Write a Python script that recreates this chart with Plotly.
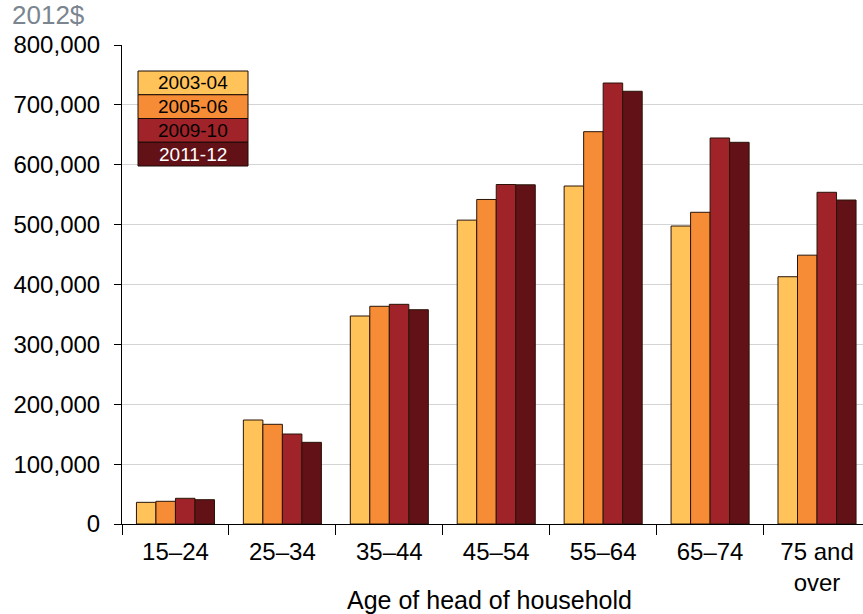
import plotly.graph_objects as go

categories = ["15–24", "25–34", "35–44", "45–54", "55–64", "65–74", "75 and<br>over"]
series_names = ["2003-04", "2005-06", "2009-10", "2011-12"]
v_2003_04 = [36200, 173700, 347400, 507500, 564500, 497700, 413000]
v_2005_06 = [37900, 166500, 363600, 542000, 655200, 520600, 449000]
v_2009_10 = [42900, 150300, 366900, 567000, 736500, 644700, 554000]
v_2011_12 = [40600, 136400, 357900, 566500, 722700, 637500, 541100]
series_values = [v_2003_04, v_2005_06, v_2009_10, v_2011_12]
colors = ["#FFC35A", "#F68D36", "#A0232A", "#621117"]
text_colors = ["#000000", "#000000", "#000000", "#FFFFFF"]
y_ticks = [0, 100000, 200000, 300000, 400000, 500000, 600000, 700000, 800000]

FONT = "Liberation Sans, Arial, sans-serif"
W, H = 863, 614
ML, MR, MT, MB = 122, 0, 45, 90
pw, ph = W - ML - MR, H - MT - MB


def px_x(x):
    return (x - ML) / pw


def px_y(y):
    return 1 - (y - MT) / ph


fig = go.Figure()
for name, vals, col in zip(series_names, series_values, colors):
    fig.add_trace(go.Bar(
        x=categories, y=vals, name=name,
        marker=dict(color=col, line=dict(color="#2a1408", width=1)),
        showlegend=False,
    ))

fig.update_layout(
    width=W, height=H,
    margin=dict(l=ML, r=MR, t=MT, b=MB, pad=0),
    paper_bgcolor="white", plot_bgcolor="white",
    barmode="group", bargap=0.27, bargroupgap=0,
    font=dict(family=FONT, size=24, color="#000000"),
)
fig.update_xaxes(
    type="category", range=[-0.5, 6.43],
    showline=True, linecolor="#000000", linewidth=1,
    ticks="outside", tickson="boundaries", ticklen=10, tickcolor="#000000",
    tickfont=dict(family=FONT, size=24, color="#000000"),
    ticklabelstandoff=6,
    showgrid=False,
)
fig.update_yaxes(
    range=[0, 800000], tickvals=y_ticks,
    ticktext=[f"{v:,}" for v in y_ticks],
    showline=True, linecolor="#000000", linewidth=1,
    ticks="outside", ticklen=7, tickcolor="#000000",
    tickfont=dict(family=FONT, size=24, color="#000000"),
    ticklabelstandoff=9,
    showgrid=True, gridcolor="#d4d4d4", gridwidth=1,
    zeroline=False,
)

# unit label
fig.add_annotation(
    xref="paper", yref="paper", x=px_x(10), y=px_y(15),
    xanchor="left", yanchor="middle", text="2012$", showarrow=False,
    font=dict(family=FONT, size=26, color="#7a8590"),
)
# axis title
fig.add_annotation(
    xref="paper", yref="paper", x=px_x(489), y=px_y(600),
    xanchor="center", yanchor="middle", text="Age of head of household",
    showarrow=False, font=dict(family=FONT, size=25, color="#000000"),
)

# custom legend: stacked coloured boxes
box_x0, box_x1 = 138, 248
row_h = 23.75
top = 71
for i, (name, col, tc) in enumerate(zip(series_names, colors, text_colors)):
    y0 = top + i * row_h
    y1 = y0 + row_h
    fig.add_shape(
        type="rect", xref="paper", yref="paper",
        x0=px_x(box_x0), x1=px_x(box_x1),
        y0=px_y(y1), y1=px_y(y0),
        fillcolor=col, line=dict(color="#1a0a05", width=1),
    )
    fig.add_annotation(
        xref="paper", yref="paper",
        x=px_x((box_x0 + box_x1) / 2), y=px_y((y0 + y1) / 2),
        xanchor="center", yanchor="middle", text=name, showarrow=False,
        font=dict(family=FONT, size=19, color=tc),
    )

fig.write_html("out.html", config={"displayModeBar": False},
               post_script="document.body.style.margin='0';")
